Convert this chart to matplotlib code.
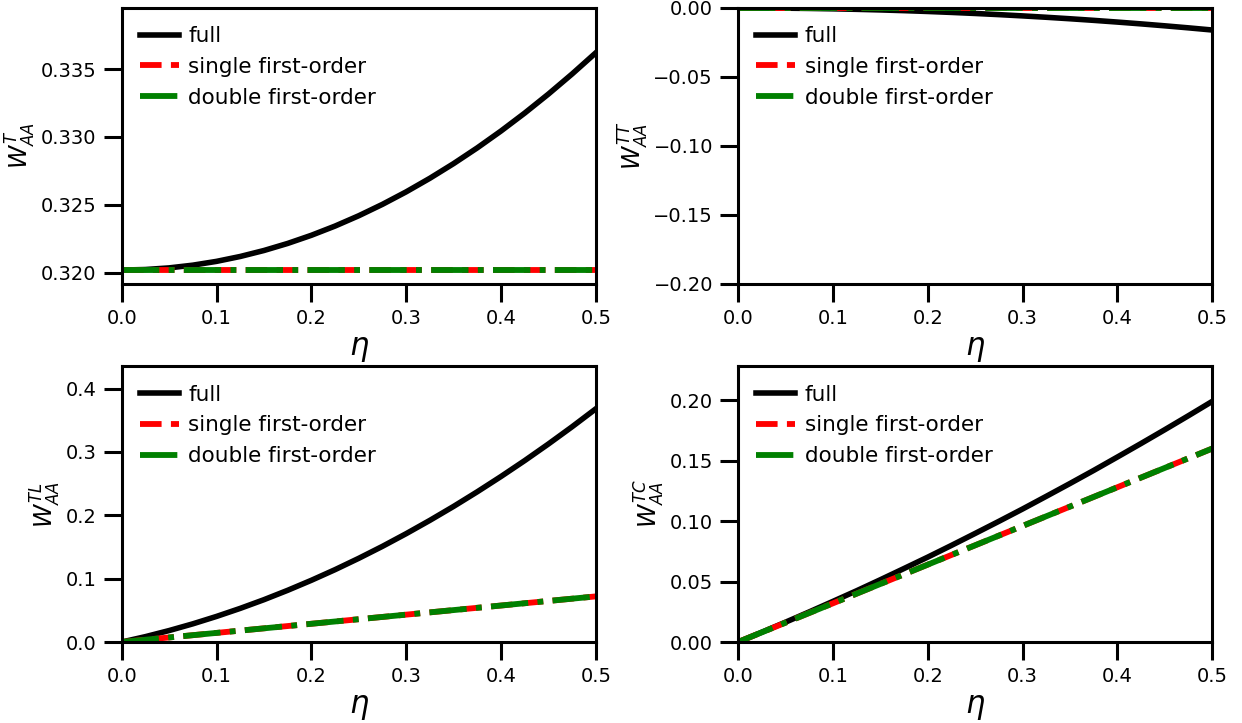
import numpy as np
import matplotlib
matplotlib.use("Agg")
import matplotlib.pyplot as plt

# eta grid and curves
eta = [0.0, 0.025, 0.05, 0.075, 0.1, 0.125, 0.15, 0.175, 0.2, 0.225, 0.25,
       0.275, 0.3, 0.325, 0.35, 0.375, 0.4, 0.425, 0.45, 0.475, 0.5]

wT_full = [0.3202, 0.32024, 0.32036, 0.32056, 0.32084, 0.3212, 0.32164, 0.32216, 0.32276, 0.32344, 0.3242,
           0.32504, 0.32596, 0.32696, 0.32804, 0.3292, 0.33044, 0.33176, 0.33316, 0.33464, 0.3362]
wT_single = [0.3202] * 21
wT_double = [0.3202] * 21

wTT_full = [0.0, -0.00004, -0.00016, -0.00036, -0.00064, -0.001, -0.00144, -0.00196, -0.00256, -0.00324, -0.004,
            -0.00484, -0.00576, -0.00676, -0.00784, -0.009, -0.01024, -0.01156, -0.01296, -0.01444, -0.016]
wTT_single = [0.0] * 21
wTT_double = [0.0] * 21

wTL_full = [0.0, 0.0085, 0.0181, 0.0287, 0.0404, 0.0531, 0.0668, 0.0816, 0.0974, 0.1142, 0.1321,
            0.1510, 0.1710, 0.1920, 0.2140, 0.2371, 0.2612, 0.2863, 0.3125, 0.3397, 0.3680]
wTL_single = [0.0, 0.0036, 0.0072, 0.0108, 0.0144, 0.018, 0.0216, 0.0252, 0.0288, 0.0324, 0.036,
              0.0396, 0.0432, 0.0468, 0.0504, 0.054, 0.0576, 0.0612, 0.0648, 0.0684, 0.072]
wTL_double = wTL_single

wTC_full = [0.0, 0.0081, 0.0164, 0.0249, 0.0336, 0.0424, 0.0515, 0.0608, 0.0702, 0.0799, 0.0898,
            0.0998, 0.1100, 0.1205, 0.1311, 0.1419, 0.1530, 0.1642, 0.1756, 0.1872, 0.199]
wTC_single = [0.0, 0.008, 0.016, 0.024, 0.032, 0.04, 0.048, 0.056, 0.064, 0.072, 0.08,
              0.088, 0.096, 0.104, 0.112, 0.12, 0.128, 0.136, 0.144, 0.152, 0.16]
wTC_double = wTC_single

panels = [
    (r"$W_{AA}^{T}$", wT_full, wT_single, wT_double, (0.3192, 0.3395), [0.320, 0.325, 0.330, 0.335], "%.3f"),
    (r"$W_{AA}^{TT}$", wTT_full, wTT_single, wTT_double, (-0.2, 0.0), [-0.20, -0.15, -0.10, -0.05, 0.00], "%.2f"),
    (r"$W_{AA}^{TL}$", wTL_full, wTL_single, wTL_double, (0.0, 0.435), [0.0, 0.1, 0.2, 0.3, 0.4], "%.1f"),
    (r"$W_{AA}^{TC}$", wTC_full, wTC_single, wTC_double, (0.0, 0.228), [0.00, 0.05, 0.10, 0.15, 0.20], "%.2f"),
]

plt.rcParams["font.family"] = "DejaVu Sans"
plt.rcParams["axes.linewidth"] = 2.2

fig, axes = plt.subplots(2, 2, figsize=(12.42, 7.23), dpi=100)
fig.subplots_adjust(left=0.098, right=0.976, top=0.989, bottom=0.112, wspace=0.3, hspace=0.3)

for ax, (lab, full, single, double, ylim, yt, fmt) in zip(axes.flat, panels):
    ax.plot(eta, full, color="black", lw=4, label="full")
    ax.plot(eta, single, color="red", lw=4.2, ls="--", label="single first-order")
    ax.plot(eta, double, color="green", lw=4.2, ls="-.", label="double first-order")
    ax.set_xlim(0, 0.5)
    ax.set_ylim(*ylim)
    ax.set_yticks(yt)
    ax.set_yticklabels([(fmt % v).replace("-", "\u2212") for v in yt])
    ax.set_xticks([0.0, 0.1, 0.2, 0.3, 0.4, 0.5])
    ax.tick_params(labelsize=14, length=13, width=2.2, pad=5)
    ax.set_xlabel(r"$\eta$", fontsize=22, labelpad=5)
    ax.set_ylabel(lab, fontsize=17, labelpad=2)
    ax.legend(loc="upper left", fontsize=15.5, frameon=False, handlelength=1.8,
              labelspacing=0.5, handletextpad=0.45, borderaxespad=0.45)

fig.savefig("out.png", dpi=100)
